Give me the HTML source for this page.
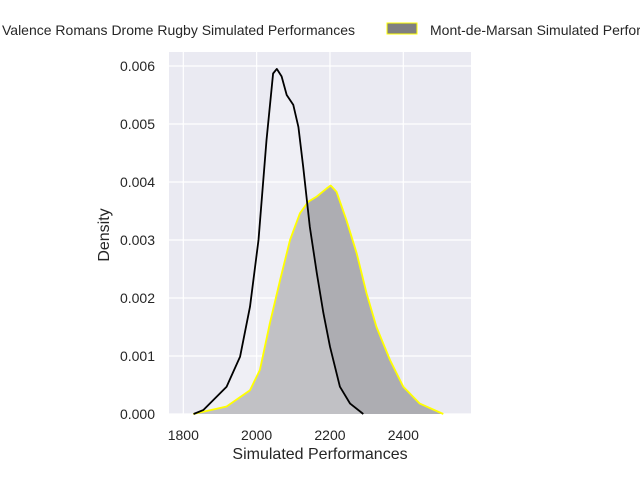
<!DOCTYPE html>
<html><head><meta charset="utf-8"><style>
body{margin:0;background:#fff;font-family:"Liberation Sans",sans-serif}
</style></head><body>
<svg width="640" height="480" xmlns="http://www.w3.org/2000/svg" font-family="Liberation Sans, sans-serif">
<rect x="169" y="52" width="302" height="362" fill="#eaeaf2"/>
<g id="grid"></g>
<g id="marks"></g>
<g id="ticks" font-size="14" fill="#262626"></g>
<text x="320" y="459" text-anchor="middle" font-size="16" fill="#262626">Simulated Performances</text>
<text transform="translate(109,235) rotate(-90)" text-anchor="middle" font-size="16" fill="#262626">Density</text>
<g>
<text x="355" y="35" text-anchor="end" font-size="14" fill="#262626">Valence Romans Drome Rugby Simulated Performances</text>
<rect x="387" y="23" width="30" height="11" fill="#808080" stroke="#ffff00" stroke-width="1"/>
<text x="430" y="35" font-size="14" fill="#262626">Mont-de-Marsan Simulated Performances</text>
</g>
</svg>
<script>
const xTicks=[1800,2000,2200,2400];
const yTicks=[0,0.001,0.002,0.003,0.004,0.005,0.006];
const yTickLabels=["0.000","0.001","0.002","0.003","0.004","0.005","0.006"];
const romansX=[1828,1855,1918,1955,1982,2005,2027,2045,2055,2068,2082,2100,2114,2127,2145,2164,2182,2200,2227,2255,2291];
const romansY=[0,0.00007,0.00047,0.00099,0.00185,0.0030,0.00472,0.00587,0.00595,0.00582,0.0055,0.00533,0.00495,0.00426,0.00323,0.00243,0.00174,0.00116,0.00047,0.00018,0];
const montX=[1827,1918,1982,2009,2036,2064,2091,2118,2141,2164,2191,2202,2218,2245,2273,2300,2327,2364,2400,2445,2509];
const montY=[0,0.00013,0.00041,0.00076,0.00156,0.00231,0.0030,0.00346,0.00366,0.00375,0.00389,0.00394,0.00383,0.00334,0.00277,0.00208,0.0015,0.00093,0.00047,0.00018,0];
const X=v=>183.3+(v-1800)*0.36667;
const Y=d=>414-d*58000;
const NS="http://www.w3.org/2000/svg";
const grid=document.getElementById('grid'),marks=document.getElementById('marks'),ticks=document.getElementById('ticks');
function mk(tag,attrs,parent){const e=document.createElementNS(NS,tag);for(const k in attrs)e.setAttribute(k,attrs[k]);parent.appendChild(e);return e;}
xTicks.forEach(v=>{
 const l=mk('line',{x1:X(v),x2:X(v),y1:52,y2:414,stroke:'#fff','stroke-width':1.2},grid);
 
 
 const t=mk('text',{x:X(v),y:440,'text-anchor':'middle'},ticks);t.textContent=v;
 
 
});
yTicks.forEach((v,i)=>{
 const l=mk('line',{x1:169,x2:471,y1:Y(v),y2:Y(v),stroke:'#fff','stroke-width':1.2},grid);
 
 
 const t=mk('text',{x:155,y:Y(v)+5,'text-anchor':'end'},ticks);t.textContent=yTickLabels[i];
 
 
});
function pathOf(xs,ys){return xs.map((x,i)=>(i?'L':'M')+X(x).toFixed(1)+','+Y(ys[i]).toFixed(1)).join(' ');}
const mp=pathOf(montX,montY);
const mf=mk('path',{d:mp+' Z',fill:'#adadb2'},marks);


const rp=pathOf(romansX,romansY);
const rf=mk('path',{d:rp+' Z',fill:'#fff','fill-opacity':0.25},marks);


const ml=mk('path',{d:mp,fill:'none',stroke:'#ffff00','stroke-width':1.8,'stroke-linejoin':'round'},marks);


const rl=mk('path',{d:rp,fill:'none',stroke:'#000','stroke-width':1.8,'stroke-linejoin':'round'},marks);


</script>
</body></html>
